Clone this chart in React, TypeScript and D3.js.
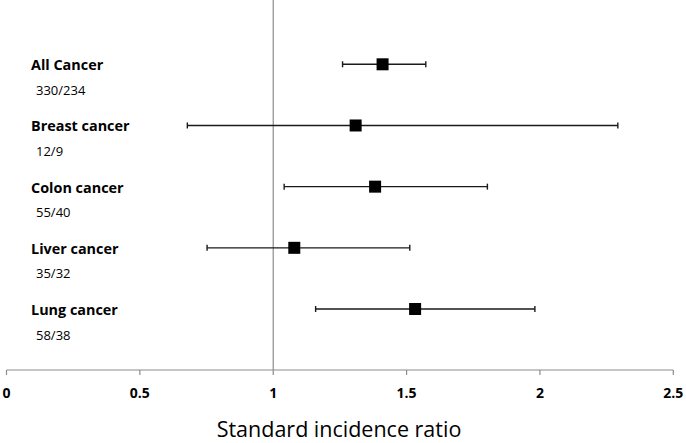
import React from "react";
import * as d3 from "d3";

const categories = ["All Cancer", "Breast cancer", "Colon cancer", "Liver cancer", "Lung cancer"];
const counts = ["330/234", "12/9", "55/40", "35/32", "58/38"];
const sir = [1.41, 1.309, 1.382, 1.079, 1.532];
const ciLow = [1.26, 0.678, 1.041, 0.752, 1.159];
const ciHigh = [1.572, 2.292, 1.803, 1.512, 1.981];
const tickValues = [0, 0.5, 1, 1.5, 2, 2.5];
const tickLabels = ["0", "0.5", "1", "1.5", "2", "2.5"];
const axisTitle = "Standard incidence ratio";

const W = 686;
const H = 443;

export default function App() {
  const x = d3.scaleLinear().domain([0, 2.5]).range([6.5, 673.3]);
  const y = d3.scalePoint<string>().domain(categories).range([64.3, 309]);
  const axisY = 370;
  const font = "'Open Sans', 'Noto Sans', sans-serif";
  const rows = categories.map((c, i) => ({ c, n: counts[i], v: sir[i], lo: ciLow[i], hi: ciHigh[i] }));
  return (
    <svg width={W} height={H} style={{ position: "fixed", left: 0, top: 0, background: "#fff" }} fontFamily={font}>
      <rect x={0} y={0} width={W} height={H} fill="#fff" />
      {/* reference line at 1 */}
      <line x1={x(1)} x2={x(1)} y1={0} y2={axisY} stroke="#8c8c8c" strokeWidth={1.2} />
      {/* x axis */}
      <line x1={x(0)} x2={x(2.5)} y1={axisY} y2={axisY} stroke="#8c8c8c" strokeWidth={1.2} />
      {tickValues.map((t, i) => (
        <g key={t}>
          <line x1={x(t)} x2={x(t)} y1={axisY} y2={axisY + 5} stroke="#8c8c8c" strokeWidth={1.2} />
          <text x={x(t)} y={398} textAnchor="middle" fontSize={14} fontWeight="bold" fill="#000">
            {tickLabels[i]}
          </text>
        </g>
      ))}
      <text x={339} y={437} textAnchor="middle" fontSize={21.5} fill="#000">
        {axisTitle}
      </text>
      {rows.map((r) => {
        const yy = y(r.c) as number;
        return (
          <g key={r.c}>
            <text x={31} y={yy + 6} fontSize={14.4} fontWeight="bold" fill="#000">
              {r.c}
            </text>
            <text x={36} y={yy + 30.5} fontSize={13} fill="#000">
              {r.n}
            </text>
            <line x1={x(r.lo)} x2={x(r.hi)} y1={yy} y2={yy} stroke="#1a1a1a" strokeWidth={1.4} />
            <line x1={x(r.lo)} x2={x(r.lo)} y1={yy - 3} y2={yy + 3} stroke="#1a1a1a" strokeWidth={1.4} />
            <line x1={x(r.hi)} x2={x(r.hi)} y1={yy - 3} y2={yy + 3} stroke="#1a1a1a" strokeWidth={1.4} />
            <rect x={x(r.v) - 6} y={yy - 6} width={12} height={12} fill="#000" />
          </g>
        );
      })}
    </svg>
  );
}
